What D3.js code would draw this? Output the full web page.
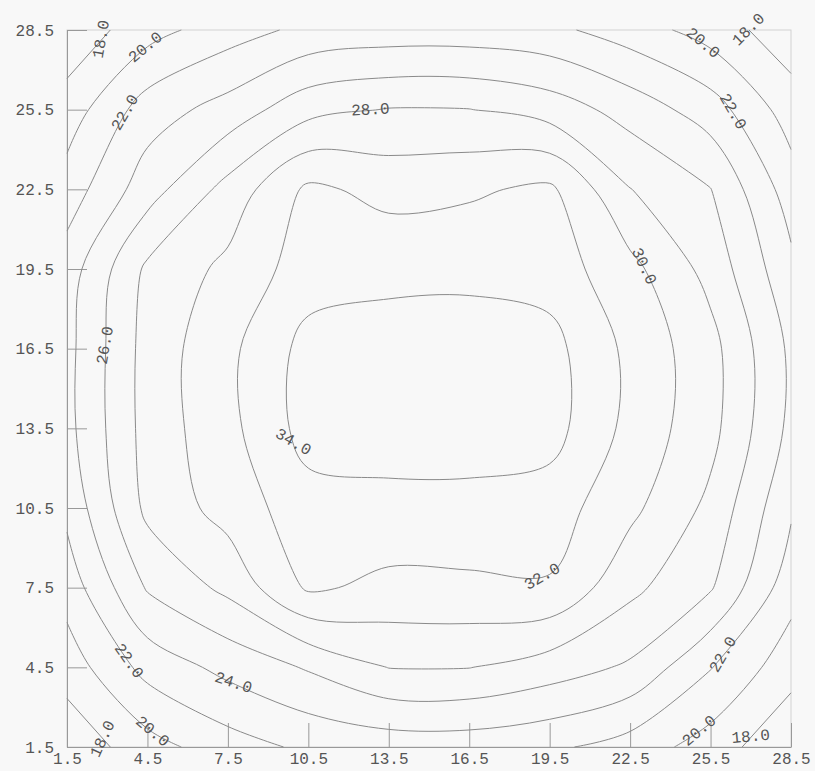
<!DOCTYPE html>
<html>
<head>
<meta charset="utf-8">
<script src="https://d3js.org/d3.v7.min.js"></script>
<style>
    body { margin: 0; background: #f8f8f8; }
    svg { display: block; }
    .axis text { font-family: "Liberation Mono", "DejaVu Sans Mono", monospace; font-size: 16px; fill: #555; }
    .axis line, .axis path { stroke: #999; }
    .contour { fill: none; stroke: #8a8a8a; stroke-width: 1; }
    .clabel { font-family: "Liberation Mono", "DejaVu Sans Mono", monospace; font-size: 16px; fill: #555; }
</style>
</head>
<body>
<script>
//tick values, same on both axes
var xTicks = [1.5, 4.5, 7.5, 10.5, 13.5, 16.5, 19.5, 22.5, 25.5, 28.5];
var yTicks = [1.5, 4.5, 7.5, 10.5, 13.5, 16.5, 19.5, 22.5, 25.5, 28.5];

//measurement grid positions
var gridX = [1.5, 4.5, 7.5, 10.5, 13.5, 16.5, 19.5, 22.5, 25.5, 28.5];
var gridY = [1.5, 4.5, 7.5, 10.5, 13.5, 16.5, 19.5, 22.5, 25.5, 28.5];

//contour levels
var levels = [18, 20, 22, 24, 26, 28, 30, 32, 34];

//grid values, one row per gridY (bottom row first), one column per gridX
var zRows = [
    [16.6, 19.2, 21.1, 22.4, 22.85, 22.9, 22.4, 21.1, 19.1, 16.3],
    [18.9, 22.7, 24.6, 26.2, 28.05, 28.05, 27.0, 25.7, 22.1, 18.8],
    [20.85, 26.2, 28.5, 32.3, 31.5, 31.6, 31.8, 28.5, 26.2, 20.8],
    [22.5, 28.5, 30.8, 33.2, 33.4, 33.4, 33.0, 30.5, 27.5, 22.3],
    [23.4, 28.8, 31.4, 34.8, 35.0, 35.0, 34.8, 31.4, 28.65, 23.5],
    [23.4, 28.8, 31.5, 34.7, 35.0, 35.0, 34.7, 31.5, 28.7, 23.6],
    [23.0, 28.4, 30.5, 33.0, 33.4, 33.5, 33.1, 30.6, 27.3, 22.5],
    [20.9, 25.1, 28.7, 32.4, 31.4, 31.7, 32.4, 28.05, 26.05, 21.0],
    [18.9, 23.0, 24.8, 27.35, 28.1, 28.05, 27.1, 25.2, 23.0, 19.0],
    [16.6, 19.2, 21.1, 22.5, 22.9, 22.9, 22.5, 21.0, 19.1, 16.8]
];

//where the level labels sit (near which point of the line) and their rotation
var labelSpots = [
    {level: 18, x: 2.73, y: 28.2, angle: -80},
    {level: 20, x: 4.04, y: 28.38, angle: -40},
    {level: 22, x: 3.29, y: 25.6, angle: -60},
    {level: 28, x: 12.8, y: 25.67, angle: -3},
    {level: 20, x: 25.48, y: 28.5, angle: 40},
    {level: 18, x: 26.79, y: 28.6, angle: -45},
    {level: 22, x: 26.53, y: 25.6, angle: 60},
    {level: 30, x: 23.25, y: 19.72, angle: 65},
    {level: 26, x: 2.73, y: 16.64, angle: -80},
    {level: 34, x: 10.19, y: 13.06, angle: 30},
    {level: 32, x: 19.25, y: 7.79, angle: -30},
    {level: 22, x: 3.74, y: 4.66, angle: 55},
    {level: 24, x: 7.58, y: 3.65, angle: 18},
    {level: 20, x: 4.6, y: 1.95, angle: 40},
    {level: 18, x: 2.84, y: 1.76, angle: -65},
    {level: 22, x: 26.23, y: 4.78, angle: -60},
    {level: 20, x: 25.11, y: 2.03, angle: -40},
    {level: 18, x: 26.98, y: 1.88, angle: -5}
];

window.onload = function(){
    var w = 815, h = 771;
    var svg = d3.select("body")
        .append("svg")
        .attr("width", w)
        .attr("height", h)
        .style("background-color", "#f8f8f8");

    var x = d3.scaleLinear().domain([1.5, 28.5]).range([67, 791]);
    var y = d3.scaleLinear().domain([1.5, 28.5]).range([747, 30]);

    //faint frame round the plot
    svg.append("rect")
        .attr("x", x(1.5))
        .attr("y", y(28.5))
        .attr("width", x(28.5) - x(1.5))
        .attr("height", y(1.5) - y(28.5))
        .attr("fill", "none")
        .attr("stroke", "#d2d2d2");

    //axes, ticks pointing inwards
    var fmt = d3.format(".1f");
    svg.append("g")
        .attr("class", "axis")
        .attr("transform", "translate(" + x(1.5) + ",0)")
        .call(d3.axisLeft(y).tickValues(yTicks).tickSizeInner(-20).tickSizeOuter(0).tickPadding(13).tickFormat(fmt));
    svg.append("g")
        .attr("class", "axis")
        .attr("transform", "translate(0," + y(1.5) + ")")
        .call(d3.axisBottom(x).tickValues(xTicks).tickSizeInner(-24).tickSizeOuter(0).tickPadding(6).tickFormat(fmt));

    //contours from the grid
    var nx = gridX.length, ny = gridY.length;
    var values = [];
    zRows.forEach(function(row){
        row.forEach(function(v){ values.push(v); });
    });
    var cells = d3.contours().size([nx, ny]).thresholds(levels)(values);

    //contour coords -> data coords (grid value i sits at i + 0.5)
    var gx = d3.scaleLinear().domain([0.5, nx - 0.5]).range([gridX[0], gridX[nx - 1]]);
    var gy = d3.scaleLinear().domain([0.5, ny - 0.5]).range([gridY[0], gridY[ny - 1]]);

    function isPad(p){
        return p[0] <= 0 || p[0] >= nx || p[1] <= 0 || p[1] >= ny;
    }
    function toPx(p){
        return [x(gx(p[0])), y(gy(p[1]))];
    }

    var lines = []; //{level, pts, closed}
    cells.forEach(function(c){
        c.coordinates.forEach(function(polygon){
            polygon.forEach(function(ring){
                var pts = ring.slice(0, ring.length - 1);
                var start = pts.findIndex(isPad);
                if (start < 0) {
                    lines.push({level: c.value, pts: pts.map(toPx), closed: true});
                    return;
                }
                var rot = pts.slice(start).concat(pts.slice(0, start));
                var run = [];
                rot.forEach(function(p){
                    if (isPad(p)) {
                        if (run.length > 1) lines.push({level: c.value, pts: run.map(toPx), closed: false});
                        run = [];
                    } else {
                        run.push(p);
                    }
                });
                if (run.length > 1) lines.push({level: c.value, pts: run.map(toPx), closed: false});
            });
        });
    });

    var openLine = d3.line().curve(d3.curveCatmullRom.alpha(0.5));
    var closedLine = d3.line().curve(d3.curveCatmullRomClosed.alpha(0.5));

    var paths = svg.append("g")
        .selectAll(".contour")
        .data(lines)
        .enter()
        .append("path")
        .attr("class", "contour")
        .attr("d", function(d){
            return d.closed ? closedLine(d.pts) : openLine(d.pts);
        });

    //put each label on the nearest point of its level line
    labelSpots.forEach(function(s){
        var tx = x(s.x), ty = y(s.y);
        var best = null, bestD = Infinity;
        paths.each(function(d){
            if (d.level !== s.level) return;
            var len = this.getTotalLength();
            for (var l = 0; l <= len; l += 1.5) {
                var p = this.getPointAtLength(l);
                var dd = (p.x - tx) * (p.x - tx) + (p.y - ty) * (p.y - ty);
                if (dd < bestD) { bestD = dd; best = p; }
            }
        });
        if (!best) best = {x: tx, y: ty};
        svg.append("text")
            .attr("class", "clabel")
            .attr("text-anchor", "middle")
            .attr("dominant-baseline", "central")
            .attr("transform", "translate(" + best.x + "," + best.y + ") rotate(" + s.angle + ")")
            .text(fmt(s.level));
    });
};
</script>
</body>
</html>
